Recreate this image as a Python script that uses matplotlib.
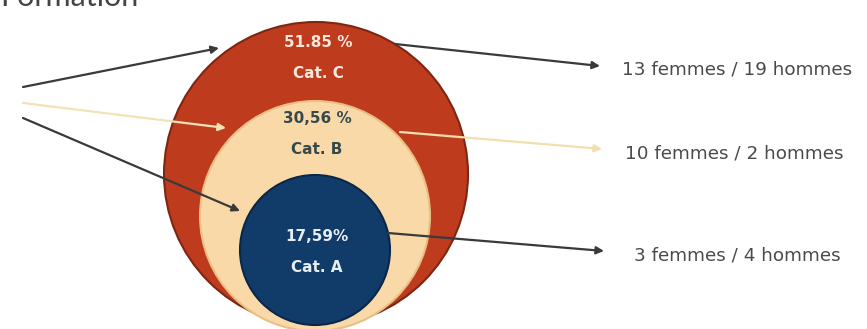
import matplotlib.pyplot as plt
from matplotlib.patches import Circle

# donnees
categories = ["Cat. C", "Cat. B", "Cat. A"]
pourcentages = ["51.85 %", "30,56 %", "17,59%"]
femmes = [13, 10, 3]
hommes = [19, 2, 4]

W, H = 867, 329
fig = plt.figure(figsize=(W / 100, H / 100), dpi=100)
ax = fig.add_axes([0, 0, 1, 1])
ax.set_xlim(0, W)
ax.set_ylim(H, 0)
ax.set_aspect("equal")
ax.axis("off")

# cercles imbriques : (centre x, centre y, rayon, couleur, bord)
cercles = [
    (316, 174, 152, "#bf3b1d", "#7e2612"),
    (315, 216, 115, "#fad9a9", "#e9bf86"),
    (315, 250, 75, "#113c69", "#0a2748"),
]
couleurs_texte = ["#fbe7dc", "#36494a", "#e8eef5"]
pos_texte = [58, 134, 252]

for (cx, cy, r, fc, ec), cat, pct, ct, ty in zip(cercles, categories, pourcentages,
                                                  couleurs_texte, pos_texte):
    ax.add_patch(Circle((cx, cy), r, facecolor=fc, edgecolor=ec, lw=1.5, zorder=2))
    ax.text(cx + 2, ty, f"{pct}\n{cat}", ha="center", va="center", color=ct,
            fontsize=11, fontweight="bold", family="DejaVu Sans", linespacing=2.3,
            zorder=5)

# fleches a gauche (vers les cercles)
fl_gauche = [((23, 87), (219, 48), "#3a3a3a"),
             ((23, 103), (226, 128), "#f1e3b6"),
             ((23, 118), (240, 211), "#3a3a3a")]
for debut, fin, c in fl_gauche:
    ax.annotate("", xy=fin, xytext=debut,
                arrowprops=dict(arrowstyle="-|>", color=c, lw=1.6,
                                mutation_scale=11, shrinkA=0, shrinkB=0), zorder=4)

# fleches a droite (vers les effectifs)
fl_droite = [((395, 44), (600, 66), "#3a3a3a"),
             ((400, 132), (602, 149), "#f1dfae"),
             ((388, 233), (604, 251), "#3a3a3a")]
x_labels = [622, 625, 634]
for (debut, fin, c), f, h, xl in zip(fl_droite, femmes, hommes, x_labels):
    ax.annotate("", xy=fin, xytext=debut,
                arrowprops=dict(arrowstyle="-|>", color=c, lw=1.6,
                                mutation_scale=11, shrinkA=0, shrinkB=0), zorder=4)
    ax.text(xl, fin[1] + 4, f"{f} femmes / {h} hommes", ha="left",
            va="center", color="#4a4a4a", fontsize=13.2, family="DejaVu Sans",
            zorder=5)

fig.text(0, 1 - 6 / H, "Formation", ha="left", va="baseline", fontsize=22,
         color="#444444", family="Lato")

fig.savefig("out.png", dpi=100)
